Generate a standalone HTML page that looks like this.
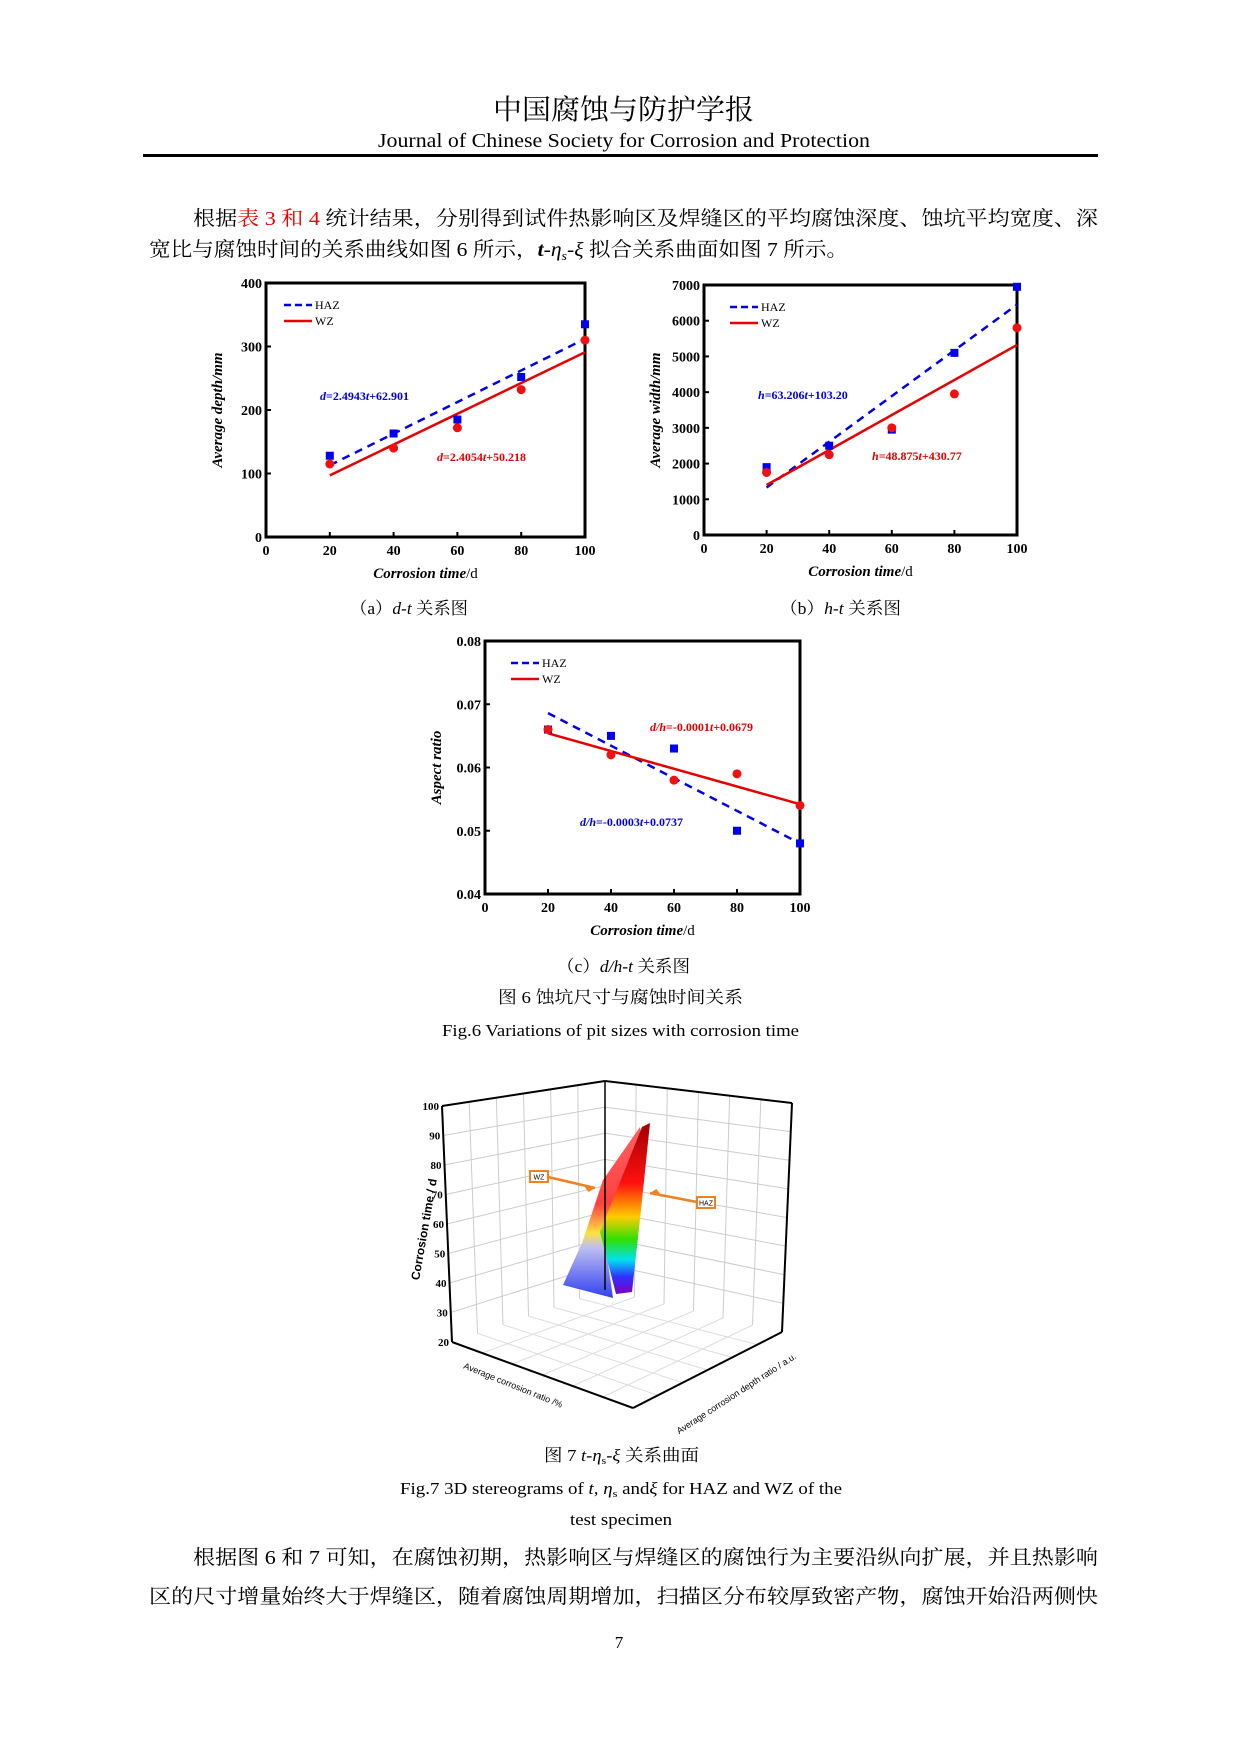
<!DOCTYPE html>
<html><head><meta charset="utf-8"><style>
html,body{margin:0;padding:0;background:#fff}
svg{display:block}
.cn{font-family:"Liberation Serif","Noto Serif CJK SC",serif}
.tm{font-family:"Liberation Serif","Noto Serif CJK SC",serif}
</style></head><body>
<svg id="page" xmlns="http://www.w3.org/2000/svg" width="1241" height="1755" viewBox="0 0 1241 1755">
<rect width="1241" height="1755" fill="#fff"/>
<text class="cn" x="493" y="119" font-size="28" textLength="261" lengthAdjust="spacingAndGlyphs">中国腐蚀与防护学报</text>
<text class="tm" x="378" y="147" font-size="20" textLength="492" lengthAdjust="spacingAndGlyphs">Journal of Chinese Society for Corrosion and Protection</text>
<rect x="143" y="154" width="955" height="3" fill="#000"/>
<text class="cn" x="193" y="225" font-size="20" textLength="905" lengthAdjust="spacingAndGlyphs">根据<tspan fill="#e00">表 3 和 4</tspan> 统计结果，分别得到试件热影响区及焊缝区的平均腐蚀深度、蚀坑平均宽度、深</text>
<text class="cn" x="149" y="256" font-size="20" textLength="699" lengthAdjust="spacingAndGlyphs">宽比与腐蚀时间的关系曲线如图 6 所示，<tspan font-style="italic" font-weight="bold">t</tspan>-<tspan font-style="italic">η<tspan font-size="13" dy="4">s</tspan></tspan><tspan dy="-4">-</tspan><tspan font-style="italic">ξ</tspan> 拟合关系曲面如图 7 所示。</text>

<g id="chartA"></g>
<g id="chartB"></g>
<g id="chartC"></g>

<text class="cn" x="350" y="614" font-size="17" textLength="118" lengthAdjust="spacingAndGlyphs">（a）<tspan font-style="italic">d-t</tspan> 关系图</text>
<text class="cn" x="780" y="614" font-size="17" textLength="121" lengthAdjust="spacingAndGlyphs">（b）<tspan font-style="italic">h-t</tspan> 关系图</text>
<text class="cn" x="557" y="972" font-size="17" textLength="133" lengthAdjust="spacingAndGlyphs">（c）<tspan font-style="italic">d/h-t</tspan> 关系图</text>
<text class="cn" x="498" y="1003" font-size="17" textLength="245" lengthAdjust="spacingAndGlyphs">图 6  蚀坑尺寸与腐蚀时间关系</text>
<text class="tm" x="442" y="1036" font-size="17" textLength="357" lengthAdjust="spacingAndGlyphs">Fig.6  Variations of pit sizes with corrosion time</text>

<g id="fig7"></g>

<text class="cn" x="544" y="1461" font-size="17" textLength="155" lengthAdjust="spacingAndGlyphs">图 7 <tspan font-style="italic">t</tspan>-<tspan font-style="italic">η</tspan><tspan font-size="11" dy="3">s</tspan><tspan dy="-3">-</tspan><tspan font-style="italic">ξ</tspan> 关系曲面</text>
<text class="tm" x="400" y="1494" font-size="17" textLength="442" lengthAdjust="spacingAndGlyphs">Fig.7 3D stereograms of <tspan font-style="italic">t</tspan>, <tspan font-style="italic">η</tspan><tspan font-size="11" dy="3">s</tspan><tspan dy="-3"> and</tspan><tspan font-style="italic">ξ</tspan> for HAZ and WZ of the</text>
<text class="tm" x="570" y="1525" font-size="17" textLength="102" lengthAdjust="spacingAndGlyphs">test specimen</text>

<text class="cn" x="193" y="1564" font-size="20" textLength="905" lengthAdjust="spacingAndGlyphs">根据图 6 和 7 可知，在腐蚀初期，热影响区与焊缝区的腐蚀行为主要沿纵向扩展，并且热影响</text>
<text class="cn" x="149" y="1603" font-size="20" textLength="949" lengthAdjust="spacingAndGlyphs">区的尺寸增量始终大于焊缝区，随着腐蚀周期增加，扫描区分布较厚致密产物，腐蚀开始沿两侧快</text>
<text class="tm" x="619" y="1648" font-size="17" text-anchor="middle">7</text>
</svg>
<script>
var NS='http://www.w3.org/2000/svg';
// ---- data ----
var times=[20,40,60,80,100];
var xTicks=[0,20,40,60,80,100];
var aHaz=[128,163,185,252,335];
var aWz=[115,140,172,232,310];
var aHazFit=[113,312];
var aWzFit=[97,291];
var aYTicks=[0,100,200,300,400];
var bHaz=[1900,2500,2950,5100,6950];
var bWz=[1750,2250,3000,3950,5800];
var bHazFit=[1330,6450];
var bWzFit=[1400,5320];
var bYTicks=[0,1000,2000,3000,4000,5000,6000,7000];
var cHaz=[0.066,0.065,0.063,0.050,0.048];
var cWz=[0.066,0.062,0.058,0.059,0.054];
var cHazFit=[0.0686,0.0480];
var cWzFit=[0.0654,0.0542];
var cYTicks=[0.04,0.05,0.06,0.07,0.08];
var cYLabels=['0.04','0.05','0.06','0.07','0.08'];
var zTicks=[20,30,40,50,60,70,80,90,100];

function mk(tag,attrs,parent){var e=document.createElementNS(NS,tag);for(var k in attrs)e.setAttribute(k,attrs[k]);if(parent)parent.appendChild(e);return e;}

function chart(id,box,ymin,ymax,yticks,ylabels,haz,wz,hazFit,wzFit,ylabel,leg,eqH,eqW){
  var g=document.getElementById(id);
  var L=box[0],R=box[1],T=box[2],B=box[3];
  function sx(v){return L+(v-0)/(100-0)*(R-L);}
  function sy(v){return B-(v-ymin)/(ymax-ymin)*(B-T);}
  var fr=mk('rect',{x:L,y:T,width:R-L,height:B-T,fill:'none',stroke:'#000','stroke-width':3},g);
  
  
  yticks.forEach(function(v,i){
    var t=mk('line',{x1:L,x2:L+5,y1:sy(v),y2:sy(v),stroke:'#000','stroke-width':2},g);
    
    
    var tx=mk('text',{x:L-4,y:sy(v)+5,'font-size':14,'font-weight':'bold','text-anchor':'end','font-family':'Liberation Serif'},g);
    tx.textContent=ylabels?ylabels[i]:String(v);
    
    
  });
  xTicks.forEach(function(v){
    var t=mk('line',{x1:sx(v),x2:sx(v),y1:B,y2:B-5,stroke:'#000','stroke-width':2},g);
    
    
    var tx=mk('text',{x:sx(v),y:B+18,'font-size':14,'font-weight':'bold','text-anchor':'middle','font-family':'Liberation Serif'},g);
    tx.textContent=String(v);
    
    
  });
  var xl=mk('text',{x:(L+R)/2,y:B+41,'font-size':15,'text-anchor':'middle','font-family':'Liberation Serif'},g);
  xl.innerHTML='<tspan font-style="italic" font-weight="bold">Corrosion time</tspan>/d';
  
  
  var yl=mk('text',{x:0,y:0,'font-size':15,'font-style':'italic','font-weight':'bold','text-anchor':'middle','font-family':'Liberation Serif',transform:'translate('+(L-44)+','+((T+B)/2)+') rotate(-90)'},g);
  yl.textContent=ylabel;
  
  
  var clip='clip'+id;
  var cp=mk('clipPath',{id:clip},g);mk('rect',{x:L,y:T-8,width:R-L+8,height:B-T+8},cp);
  var lh=mk('line',{x1:sx(20),y1:sy(hazFit[0]),x2:sx(100),y2:sy(hazFit[1]),stroke:'#0000e6','stroke-width':2.5,'stroke-dasharray':'8,6'},g);
  
  
  var lw=mk('line',{x1:sx(20),y1:sy(wzFit[0]),x2:sx(100),y2:sy(wzFit[1]),stroke:'#e60000','stroke-width':2.5},g);
  
  
  var pg=mk('g',{'clip-path':'url(#'+clip+')'},g);
  times.forEach(function(t,i){
    var s=mk('rect',{x:sx(t)-4,y:sy(haz[i])-4,width:8,height:8,fill:'#0000f0'},pg);
    
    
  });
  times.forEach(function(t,i){
    var c=mk('circle',{cx:sx(t),cy:sy(wz[i]),r:4.5,fill:'#f01010'},pg);
    
    
  });
  var lg=mk('g',{},g);
  
  
  mk('line',{x1:leg[0],x2:leg[0]+28,y1:leg[1],y2:leg[1],stroke:'#0000e6','stroke-width':2.5,'stroke-dasharray':'7,4'},lg);
  mk('line',{x1:leg[0],x2:leg[0]+28,y1:leg[1]+16,y2:leg[1]+16,stroke:'#e60000','stroke-width':2.5},lg);
  var t1=mk('text',{x:leg[0]+31,y:leg[1]+4,'font-size':12,'font-family':'Liberation Serif'},lg);t1.textContent='HAZ';
  var t2=mk('text',{x:leg[0]+31,y:leg[1]+20,'font-size':12,'font-family':'Liberation Serif'},lg);t2.textContent='WZ';
  var e1=mk('text',{x:eqH[0],y:eqH[1],'font-size':12,'font-weight':'bold','fill':'#0000e0','font-family':'Liberation Serif'},g);
  e1.innerHTML=eqH[2];
  
  
  var e2=mk('text',{x:eqW[0],y:eqW[1],'font-size':12,'font-weight':'bold','fill':'#e00000','font-family':'Liberation Serif'},g);
  e2.innerHTML=eqW[2];
  
  
}
chart('chartA',[266,585,283,537],0,400,aYTicks,null,aHaz,aWz,aHazFit,aWzFit,'Average depth/mm',[284,305],
 [320,400,'<tspan font-style="italic">d</tspan>=2.4943<tspan font-style="italic">t</tspan>+62.901'],
 [437,461,'<tspan font-style="italic">d</tspan>=2.4054<tspan font-style="italic">t</tspan>+50.218']);
chart('chartB',[704,1017,285,535],0,7000,bYTicks,null,bHaz,bWz,bHazFit,bWzFit,'Average width/mm',[730,307],
 [758,399,'<tspan font-style="italic">h</tspan>=63.206<tspan font-style="italic">t</tspan>+103.20'],
 [872,460,'<tspan font-style="italic">h</tspan>=48.875<tspan font-style="italic">t</tspan>+430.77']);
chart('chartC',[485,800,641,894],0.04,0.08,cYTicks,cYLabels,cHaz,cWz,cHazFit,cWzFit,'Aspect ratio',[511,663],
 [580,826,'<tspan font-style="italic">d/h</tspan>=-0.0003<tspan font-style="italic">t</tspan>+0.0737'],
 [650,731,'<tspan font-style="italic">d/h</tspan>=-0.0001<tspan font-style="italic">t</tspan>+0.0679']);

// ---- figure 7 ----
(function(){
  var g=document.getElementById('fig7');
  var BLt=[442,1106],BCt=[605,1081],BRt=[792,1103],BLb=[452,1342],BCb=[605,1290],BRb=[782,1332],F=[633,1408];
  function lerp(a,b,t){return [a[0]+(b[0]-a[0])*t,a[1]+(b[1]-a[1])*t];}
  function ln(p,q,c,w,name){var l=mk('line',{x1:p[0],y1:p[1],x2:q[0],y2:q[1],stroke:c,'stroke-width':w},g);return l;}
  var n=8;
  for(var i=1;i<n;i++){
    var t=i/n;
    ln(lerp(BLt,BLb,t),lerp(BCt,BCb,t),'#ccc',1,'grid-line');
    ln(lerp(BCt,BCb,t),lerp(BRt,BRb,t),'#ccc',1,'grid-line');
  }
  for(var j=1;j<6;j++){
    var s=j/6;
    ln(lerp(BLt,BCt,s),lerp(BLb,BCb,s),'#ccc',1,'grid-line');
    ln(lerp(BCt,BRt,s),lerp(BCb,BRb,s),'#ccc',1,'grid-line');
    ln(lerp(BLb,BCb,s),lerp(F,BRb,s),'#ddd',1,'grid-line');
    ln(lerp(BCb,BRb,s),lerp(BLb,F,s),'#ddd',1,'grid-line');
  }
  var defs=mk('defs',{},g);
  var gr=mk('linearGradient',{id:'rb',x1:0,y1:0,x2:0,y2:1},defs);
  [['0','#a00000'],['0.35','#ff1010'],['0.55','#ffcc00'],['0.68','#30e000'],['0.8','#00e0f0'],['0.9','#3030ff'],['1','#8000c0']].forEach(function(s){mk('stop',{offset:s[0],'stop-color':s[1]},gr);});
  var gr2=mk('linearGradient',{id:'rb2',x1:0,y1:0,x2:0,y2:1},defs);
  [['0','#ff6060'],['0.45','#ff4040'],['0.62','#ffe040'],['0.7','#c0c0f0'],['1','#3040f0']].forEach(function(s){mk('stop',{offset:s[0],'stop-color':s[1]},gr2);});
  var wz=mk('polygon',{points:'640,1127 603,1180 582,1243 563,1285 613,1298 604,1235 642,1140',fill:'url(#rb2)'},g);
  
  
  var hz=mk('polygon',{points:'650,1123 641,1210 632,1292 616,1294 600,1232 642,1127',fill:'url(#rb)'},g);
  
  
  ln(BLt,BLb,'#000',2,'z-axis');
  ln(BLt,BCt,'#000',2,'frame-edge');ln(BCt,BRt,'#000',2,'frame-edge');ln(BCt,BCb,'#000',1.5,'frame-edge');
  ln(BRt,BRb,'#000',2,'frame-edge');ln(BLb,F,'#000',2,'x-axis');ln(F,BRb,'#000',2,'y-axis');
  zTicks.forEach(function(v){
    var p=lerp(BLb,BLt,(v-20)/80);
    var t=mk('text',{x:p[0]-3,y:p[1]+4,'font-size':11,'font-weight':'bold','text-anchor':'end','font-family':'Liberation Serif'},g);
    t.textContent=String(v);
    
    
  });
  var zl=mk('text',{x:0,y:0,'font-size':12,'font-weight':'bold','text-anchor':'middle','font-family':'Liberation Sans',transform:'translate(428,1230) rotate(-80)'},g);
  zl.textContent='Corrosion time / d';
  
  
  var xl=mk('text',{x:0,y:0,'font-size':9,'text-anchor':'middle','font-family':'Liberation Sans',transform:'translate(512,1388) rotate(22)'},g);
  xl.textContent='Average corrosion ratio /%';
  
  
  var yl=mk('text',{x:0,y:0,'font-size':9,'text-anchor':'middle','font-family':'Liberation Sans',transform:'translate(738,1396) rotate(-33)'},g);
  yl.textContent='Average corrosion depth ratio / a.u.';
  
  
  function tag(x,y,label,ax,ay,bx,by,name){
    var a=mk('line',{x1:ax,y1:ay,x2:bx,y2:by,stroke:'#f08020','stroke-width':2.5},g);
    
    
    mk('polygon',{points:bx+','+by+' '+(bx-(bx-ax)*0.2-3)+','+(by-4)+' '+(bx-(bx-ax)*0.2+3)+','+(by+4),fill:'#f08020'},g);
    var r=mk('rect',{x:x,y:y,width:18,height:11,fill:'#fff',stroke:'#f08020','stroke-width':2},g);
    
    
    var t=mk('text',{x:x+9,y:y+8.5,'font-size':7,'text-anchor':'middle','font-family':'Liberation Sans'},g);
    t.textContent=label;
    
    
  }
  tag(530,1171,'WZ',548,1177,595,1188,'wz');
  tag(697,1197,'HAZ',697,1202,650,1193,'haz');
})();
</script>
</body></html>
